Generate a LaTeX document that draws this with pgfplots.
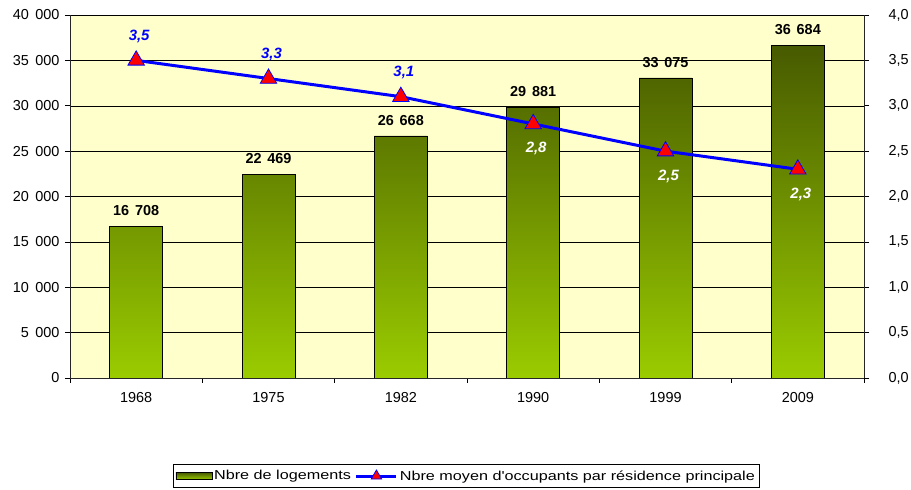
\documentclass[border=0pt]{standalone}
\usepackage{fontspec}
\setmainfont{Liberation Sans}
\newfontfamily\legendfont[FakeStretch=1.25]{Liberation Sans}
\usepackage{pgfplots}
\pgfplotsset{compat=1.18}

\definecolor{bgyellow}{HTML}{FFFFCC}
\definecolor{bartop}{HTML}{475A00}
\definecolor{barmid}{HTML}{5E7E00}
\definecolor{barbot}{HTML}{9ACC00}
\definecolor{lineblue}{HTML}{0000FF}
\definecolor{markred}{HTML}{FF0000}

\begin{document}
\begin{tikzpicture}
\pgfplotsset{
    every axis/.append style={
        scale only axis,
        width=794bp,
        height=363bp,
        xmin=-0.5,
        xmax=5.5,
        tick label style={font=\fontsize{14.5}{16}\selectfont},
        /pgf/number format/assume math mode=true,
        major tick length=5bp,
        minor tick length=5bp,
        tick align=outside,
        every tick/.style={black, line width=0.6pt},
    }
}
% Nombre de logements
\begin{axis}[
    axis background/.style={fill=bgyellow},
    ymin=0, ymax=40000,
    ytick={0,5000,...,40000},
    scaled y ticks=false,
    yticklabel style={xshift=-2bp, /pgf/number format/.cd, 1000 sep={\hspace{0.45em}}},
    xticklabel style={yshift=-6bp},
    ymajorgrids=true,
    grid style={black, line width=0.5pt},
    xtick={0,...,5},
    xticklabels={1968,1975,1982,1990,1999,2009},
    major x tick style={draw=none},
    minor xtick={-0.5,0.5,...,5.5},
    axis x line*=bottom,
    axis y line*=left,
    axis line style={black!85, line width=0.8pt},
    ybar,
    bar width=0.4,
    nodes near coords,
    nodes near coords style={
        font=\fontsize{14.5}{16}\selectfont\bfseries,
        text=black,
        yshift=7bp,
        /pgf/number format/.cd, 1000 sep={\hspace{0.4em}}
    },
]
\addplot[draw=black, line width=0.6pt,
    top color=bartop, middle color=barmid, bottom color=barbot]
    coordinates {(0,16708) (1,22469) (2,26668) (3,29881) (4,33075) (5,36684)};
\end{axis}
% Nombre moyen d'occupants
\begin{axis}[
    ymin=0, ymax=4,
    ytick={0,0.5,...,4},
    yticklabel style={xshift=16bp, /pgf/number format/.cd, fixed, fixed zerofill, precision=1, use comma},
    axis y line*=right,
    axis x line=none,
    axis line style={black!85, line width=0.8pt},
    legend style={
        at={(0.499,-0.27)},
        anchor=center,
        legend columns=2,
        draw=black,
        line width=0.6pt,
        font=\fontsize{13}{15}\selectfont\legendfont,
        inner xsep=2bp,
        inner ysep=4bp,
        /tikz/every even column/.append style={column sep=2bp},
    },
]
\addlegendimage{legend image code/.code={
    \draw[draw=black, line width=0.6pt,
        top color=bartop, middle color=barmid, bottom color=barbot]
        (0bp,-3.5bp) rectangle (36bp,3.5bp);}}
\addlegendentry{Nbre de logements}
\addplot[
    lineblue, line width=3bp,
    mark=triangle*, mark size=9.5bp,
    mark options={fill=markred, draw=lineblue, line width=0.8pt},
    legend image code/.code={
        \draw[mark repeat=2, mark phase=2, mark size=6bp]
            plot coordinates {(0bp,0bp) (20bp,0bp) (40bp,0bp)};}
] coordinates {(0,3.5) (1,3.3) (2,3.1) (3,2.8) (4,2.5) (5,2.3)};
\addlegendentry{Nbre moyen d'occupants par résidence principale}
% étiquettes au-dessus
\addplot[
    draw=none, forget plot,
    nodes near coords,
    nodes near coords style={
        font=\fontsize{15}{17}\selectfont\bfseries\itshape,
        text=lineblue, anchor=center, yshift=24bp, xshift=3bp,
        /pgf/number format/.cd, fixed, fixed zerofill, precision=1, use comma
    },
] coordinates {(0,3.5) (1,3.3) (2,3.1)};
% étiquettes en dessous
\addplot[
    draw=none, forget plot,
    nodes near coords,
    nodes near coords style={
        font=\fontsize{15}{17}\selectfont\bfseries\itshape,
        text=white, anchor=center, yshift=-25bp, xshift=3bp,
        /pgf/number format/.cd, fixed, fixed zerofill, precision=1, use comma
    },
] coordinates {(3,2.8) (4,2.5) (5,2.3)};
\end{axis}
\pgfresetboundingbox
\path[use as bounding box] (-70bp,-112bp) rectangle (841bp,378bp);
\end{tikzpicture}
\end{document}
